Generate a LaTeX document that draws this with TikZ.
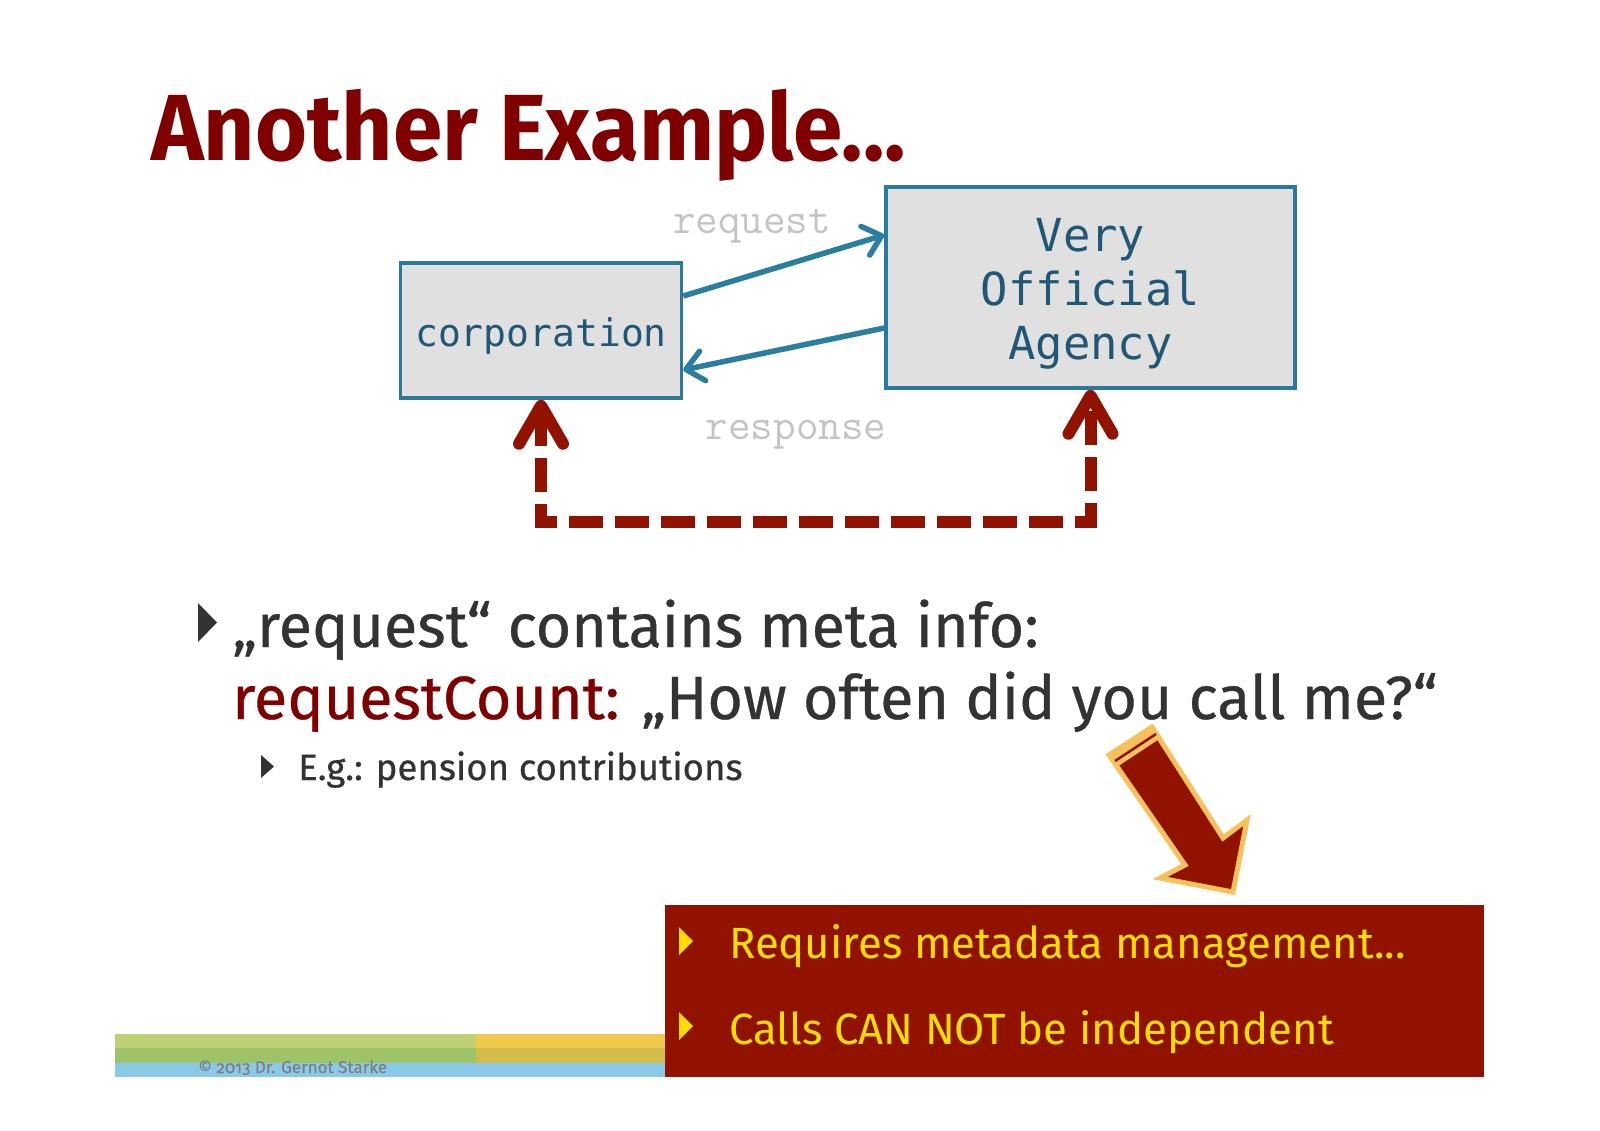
\documentclass[tikz,border=0pt]{standalone}
\usepackage{fontspec}
\usetikzlibrary{arrows.meta}
\setmainfont{Fira Sans}
\newfontfamily\titlefont[FakeStretch=0.948]{Fira Sans}
\newfontfamily\bodyfont[FakeBold=0.6]{Fira Sans}
\newfontfamily\boxfont{DejaVu Sans Mono}
\newfontfamily\footfont[Numbers=OldStyle,FakeBold=0.5]{Fira Sans}
\definecolor{titlered}{HTML}{800000}
\definecolor{notered}{HTML}{921200}
\definecolor{noteyellow}{HTML}{FFDD00}
\definecolor{bigarrowrim}{HTML}{F8C15C}
\definecolor{boxline}{HTML}{2A7B9B}
\definecolor{flowblue}{HTML}{2A7FA1}
\definecolor{boxtext}{HTML}{1F5774}
\definecolor{boxfill}{HTML}{E0E0E0}
\definecolor{labelgray}{HTML}{C4C4C4}
\definecolor{bodygray}{HTML}{333333}
\definecolor{footgray}{HTML}{7F7F7F}
\definecolor{barlime}{HTML}{BDD072}
\definecolor{bargreen}{HTML}{9EC46A}
\definecolor{baryellow}{HTML}{EFC94C}
\definecolor{barolive}{HTML}{D4BC48}
\definecolor{barblue}{HTML}{8ACAE8}

\begin{document}
\begin{tikzpicture}[x=1pt,y=-1pt,
  box/.style={draw=boxline,fill=boxfill,line width=3.5pt,inner sep=0pt,text=boxtext},
  flow/.style={draw=flowblue,line width=5.5pt,-{Straight Barb[length=17pt,width=30pt,round]}},
  flowlabel/.style={anchor=base,inner sep=0pt,text=labelgray,font=\fontsize{43.8}{52}\ttfamily},
  loopback/.style={draw=notered,line width=12pt,dash pattern=on 34pt off 12pt,
    {Straight Barb[length=38pt,width=44pt,round]}-{Straight Barb[length=38pt,width=44pt,round]}},
  textline/.style={anchor=base west,inner sep=0pt}]
\fill[white,use as bounding box] (0,0) rectangle (1600,1130);
% title
\node[textline,text=titlered,font=\fontsize{94}{112.8}\titlefont\bfseries] (title) at (151,160) {Another Example...};
% diagram
\node[box,minimum width=281pt,minimum height=135pt,text height=31pt,text depth=0pt,font=\fontsize{38}{45.6}\boxfont] (corp) at (541,330.5) {corporation};
\node[box,minimum width=409pt,minimum height=201pt,align=center,font=\fontsize{45.5}{54}\boxfont] (agency) at (1090.5,287.5) {\rule{0pt}{46pt}Very\\Official\\Agency};
\draw[flow] ([yshift=34.5pt]corp.east) -- ([yshift=52.5pt]agency.west);
\draw[flow] ([yshift=-40.5pt]agency.west) -- ([yshift=-39.5pt]corp.east);
\node[flowlabel] (reqlabel) at (752,233.5) {request};
\node[flowlabel] (resplabel) at (796,439) {response};
\draw[loopback] (corp.south) -- ++(0,122) coordinate (loopcorner) -| (agency.south);
% bullets
\fill[bodygray] (198,603) -- (217,622.5) -- (198,642) -- cycle;
\node[textline,text=bodygray,font=\fontsize{61}{73}\bodyfont] (line1) at (232,647) {„request“ contains meta info:};
\node[textline,text=bodygray,font=\fontsize{61}{73}\bodyfont] (line2) at (232,719) {{\color{titlered}requestCount:} „How often did you call me?“};
\fill[bodygray] (261,755) -- (274,766.5) -- (261,778) -- cycle;
\node[textline,text=bodygray,font=\fontsize{36.6}{44}\bodyfont] (line3) at (298,780) {E.g.: pension contributions};
% big arrow
\filldraw[fill=notered,draw=bigarrowrim,line width=5pt,line join=miter] (1109,755) -- (1152,727) -- (1223,838) -- (1247,820) -- (1233,892) -- (1160,878) -- (1185,865) -- cycle;
\draw[bigarrowrim,line width=12pt] (1115,761) -- (1156,734);
\draw[notered,line width=2.5pt] (1115,761) -- (1156,734);
% footer
\fill[barlime] (115,1034) rectangle (476,1048);
\fill[baryellow] (476,1034) rectangle (665,1048);
\fill[bargreen] (115,1048) rectangle (476,1063);
\fill[barolive] (476,1048) rectangle (665,1063);
\fill[barblue] (115,1063) rectangle (665,1077);
\node[textline,text=footgray,font=\fontsize{17}{20}\footfont] (credit) at (198,1073) {© 2013 Dr. Gernot Starke};
% note box
\fill[notered] (665,905) rectangle (1484,1077);
\fill[noteyellow] (679,927) -- (693,941) -- (679,955) -- cycle;
\fill[noteyellow] (679,1012) -- (693,1026) -- (679,1040) -- cycle;
\node[textline,text=noteyellow,font=\fontsize{43.7}{52}\selectfont] (note1) at (729,958) {Requires metadata management...};
\node[textline,text=noteyellow,font=\fontsize{43.7}{52}\selectfont] (note2) at (729,1044) {Calls CAN NOT be independent};
\end{tikzpicture}
\end{document}
